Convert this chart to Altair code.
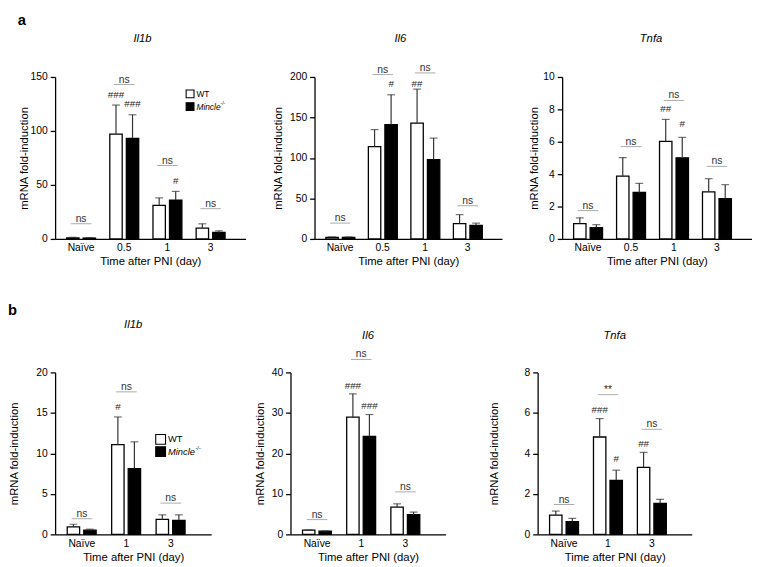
import altair as alt
import pandas as pd

FONT = "Liberation Sans"
GROUPS = ["WT", "KO"]

A_CATS = ["Naïve", "0.5", "1", "3"]
B_CATS = ["Naïve", "1", "3"]

# ---------------- panel a ----------------
A1_WT = [1.0, 97, 31, 10]
A1_WT_UP = [1.5, 124, 38, 14]
A1_KO = [0.8, 93, 36, 6]
A1_KO_UP = [1.2, 115, 44, 7.5]
A1_SIG_Y = [14, 143, 68, 28]
A1_SIG = ["ns", "ns", "ns", "ns"]
A1_H_CAT = ["0.5", "0.5", "1"]
A1_H_GRP = ["WT", "KO", "KO"]
A1_H_TXT = ["###", "###", "#"]
A1_H_Y = [133, 125, 54]

A2_WT = [2, 114, 143, 19]
A2_WT_UP = [2.5, 135, 185, 30]
A2_KO = [2, 141, 98, 16.6]
A2_KO_UP = [2.5, 178, 124.5, 19.5]
A2_SIG_Y = [19.5, 203, 205, 41]
A2_SIG = ["ns", "ns", "ns", "ns"]
A2_H_CAT = ["0.5", "1"]
A2_H_GRP = ["KO", "WT"]
A2_H_TXT = ["#", "##"]
A2_H_Y = [191, 191]

A3_WT = [0.95, 3.88, 6.03, 2.9]
A3_WT_UP = [1.3, 5.02, 7.38, 3.72]
A3_KO = [0.7, 2.87, 5.01, 2.48]
A3_KO_UP = [0.88, 3.43, 6.27, 3.35]
A3_SIG_Y = [1.75, 5.7, 8.55, 4.48]
A3_SIG = ["ns", "ns", "ns", "ns"]
A3_H_CAT = ["1", "1"]
A3_H_GRP = ["WT", "KO"]
A3_H_TXT = ["##", "#"]
A3_H_Y = [8.0, 7.07]

# ---------------- panel b ----------------
B1_WT = [0.93, 11.07, 1.85]
B1_WT_UP = [1.25, 14.5, 2.41]
B1_KO = [0.52, 8.13, 1.73]
B1_KO_UP = [0.64, 11.43, 2.41]
B1_SIG_Y = [1.93, 17.6, 3.86]
B1_SIG = ["ns", "ns", "ns"]
B1_H_CAT = ["1"]
B1_H_GRP = ["WT"]
B1_H_TXT = ["#"]
B1_H_Y = [15.7]

B2_WT = [1.05, 28.95, 6.73]
B2_WT_UP = [1.1, 34.7, 7.54]
B2_KO = [0.8, 24.2, 4.87]
B2_KO_UP = [0.85, 29.6, 5.5]
B2_SIG_Y = [3.65, 43.2, 10.5]
B2_SIG = ["ns", "ns", "ns"]
B2_H_CAT = ["1", "1"]
B2_H_GRP = ["WT", "KO"]
B2_H_TXT = ["###", "###"]
B2_H_Y = [36.7, 31.6]

B3_WT = [0.95, 4.81, 3.31]
B3_WT_UP = [1.15, 5.72, 4.05]
B3_KO = [0.63, 2.67, 1.53]
B3_KO_UP = [0.79, 3.17, 1.73]
B3_SIG_Y = [1.47, 6.9, 5.19]
B3_SIG = ["ns", "**", "ns"]
B3_H_CAT = ["1", "1", "3"]
B3_H_GRP = ["WT", "KO", "WT"]
B3_H_TXT = ["###", "#", "##"]
B3_H_Y = [6.15, 3.72, 4.47]

LEGEND_LABELS = ["WT", "Mincle", "-/-"]


def text_at(txt, x, y, size, weight="normal", style="normal", baseline="middle",
            align="left"):
    return alt.Chart(pd.DataFrame({"t": [txt]})).mark_text(
        font=FONT, fontSize=size, fontWeight=weight, fontStyle=style, align=align,
        baseline=baseline, color="black").encode(
        text="t:N", x=alt.value(x), y=alt.value(y))


def square_at(fill, x, y, side):
    return alt.Chart(pd.DataFrame({"t": [fill]})).mark_square(
        size=side * side, fill=fill, stroke="black", strokeWidth=1.1, opacity=1).encode(
        x=alt.value(x), y=alt.value(y))


def legend(x, y1, y2, side, fs, sup_dx):
    return [
        square_at("white", x, y1, side),
        square_at("black", x, y2, side),
        text_at(LEGEND_LABELS[0], x + side / 2 + 2.5, y1, fs),
        text_at(LEGEND_LABELS[1], x + side / 2 + 2.5, y2, fs, style="italic"),
        text_at(LEGEND_LABELS[2], x + side / 2 + 2.5 + sup_dx, y2 - 3.5, fs * 0.6),
    ]


def make_panel(cats, wt, wt_up, ko, ko_up, sig_y, sig_txt, h_cat, h_grp, h_txt, h_y,
               ymax, ystep, gene, width, height, t_y, t_dx, y_tpad, xpad, extra):
    rows = []
    for i, c in enumerate(cats):
        rows.append({"cat": c, "grp": "WT", "mean": wt[i], "up": wt_up[i]})
        rows.append({"cat": c, "grp": "KO", "mean": ko[i], "up": ko_up[i]})
    df = pd.DataFrame(rows)
    sig_df = pd.DataFrame({"cat": cats, "y": sig_y, "t": sig_txt})
    hash_df = pd.DataFrame({"cat": h_cat, "grp": h_grp, "t": h_txt, "y": h_y})

    xaxis = alt.Axis(title="Time after PNI (day)", labelAngle=0, ticks=False, tickSize=0,
                     labelPadding=4, titlePadding=3, domainColor="black", domainWidth=1.3,
                     labelColor="black", titleColor="black", labelFontSize=10.5,
                     titleFontSize=11.5, titleFontWeight="normal", labelFont=FONT,
                     titleFont=FONT, grid=False)
    yaxis = alt.Axis(title="mRNA fold-induction", values=list(range(0, ymax + 1, ystep)),
                     tickSize=5, tickWidth=1.3, tickColor="black", domainColor="black",
                     domainWidth=1.3, labelPadding=3, titlePadding=y_tpad,
                     labelColor="black", titleColor="black", labelFontSize=10.5,
                     titleFontSize=11.5, titleFontWeight="normal", labelFont=FONT,
                     titleFont=FONT, grid=False)
    xs = alt.Scale(domain=cats, paddingInner=xpad[0], paddingOuter=xpad[1], align=xpad[2])
    ys = alt.Scale(domain=[0, ymax], nice=False, zero=True)
    X = alt.X("cat:N", sort=cats, scale=xs, axis=xaxis)
    XO = alt.XOffset("grp:N", sort=GROUPS,
                     scale=alt.Scale(domain=GROUPS, paddingInner=0.25, paddingOuter=0))

    bars = alt.Chart(df).mark_bar(stroke="black", strokeWidth=1.3).encode(
        x=X, xOffset=XO,
        y=alt.Y("mean:Q", scale=ys, axis=yaxis, stack=None),
        fill=alt.Fill("grp:N", scale=alt.Scale(domain=GROUPS, range=["white", "black"]),
                      legend=None),
    )
    err = alt.Chart(df).mark_rule(color="#333", strokeWidth=1.2).encode(
        x=X, xOffset=XO,
        y=alt.Y("mean:Q", scale=ys, axis=yaxis, stack=None), y2="up:Q",
    )
    cap = alt.Chart(df).mark_tick(color="#333", thickness=1.2, size=8,
                                  orient="horizontal").encode(
        x=X, xOffset=XO, y=alt.Y("up:Q", scale=ys, axis=yaxis, stack=None),
    )
    sig_line = alt.Chart(sig_df).mark_tick(color="#888", thickness=1, size=21,
                                           orient="horizontal").encode(
        x=X, y=alt.Y("y:Q", scale=ys, axis=yaxis),
    )
    sig_text = alt.Chart(sig_df).mark_text(font=FONT, fontSize=10.5, color="#333",
                                           baseline="alphabetic", dy=-2).encode(
        x=X, y=alt.Y("y:Q", scale=ys, axis=yaxis), text="t:N",
    )
    hashes = alt.Chart(hash_df).mark_text(font=FONT, fontSize=10, color="#222",
                                          baseline="middle").encode(
        x=X, xOffset=XO, y=alt.Y("y:Q", scale=ys, axis=yaxis), text="t:N",
    )
    title = text_at(gene, width / 2 + t_dx, t_y, 11.5, style="italic",
                    baseline="alphabetic", align="center")
    layers = [bars, err, cap, sig_line, sig_text, hashes, title] + extra
    return alt.layer(*layers).properties(width=width, height=height)


A_PAD = (0.33, 0.37, 0.36)
B_PAD = (0.34, 0.425, 0.32)

a1 = make_panel(A_CATS, A1_WT, A1_WT_UP, A1_KO, A1_KO_UP, A1_SIG_Y, A1_SIG,
                A1_H_CAT, A1_H_GRP, A1_H_TXT, A1_H_Y, 150, 50, "Il1b",
                194, 165, -35.6, -8, 1, A_PAD,
                legend(137.5, 17.2, 30.2, 8, 8.5, 24.5)
                + [text_at("a", -38, -65, 15, weight="bold", baseline="top")])
a2 = make_panel(A_CATS, A2_WT, A2_WT_UP, A2_KO, A2_KO_UP, A2_SIG_Y, A2_SIG,
                A2_H_CAT, A2_H_GRP, A2_H_TXT, A2_H_Y, 200, 50, "Il6",
                191, 165, -35.6, -8, 6, A_PAD, [])
a3 = make_panel(A_CATS, A3_WT, A3_WT_UP, A3_KO, A3_KO_UP, A3_SIG_Y, A3_SIG,
                A3_H_CAT, A3_H_GRP, A3_H_TXT, A3_H_Y, 10, 2, "Tnfa",
                193, 165, -35.6, -6, 3, A_PAD, [])

b1 = make_panel(B_CATS, B1_WT, B1_WT_UP, B1_KO, B1_KO_UP, B1_SIG_Y, B1_SIG,
                B1_H_CAT, B1_H_GRP, B1_H_TXT, B1_H_Y, 20, 5, "Il1b",
                159, 165, -45.2, 0, 17, B_PAD,
                legend(107.5, 68.2, 80.7, 10, 9.5, 28)
                + [text_at("b", -48, -71, 15, weight="bold", baseline="top")])
b2 = make_panel(B_CATS, B2_WT, B2_WT_UP, B2_KO, B2_KO_UP, B2_SIG_Y, B2_SIG,
                B2_H_CAT, B2_H_GRP, B2_H_TXT, B2_H_Y, 40, 10, "Il6",
                158, 165, -34.4, 0, 6, B_PAD, [])
b3 = make_panel(B_CATS, B3_WT, B3_WT_UP, B3_KO, B3_KO_UP, B3_SIG_Y, B3_SIG,
                B3_H_CAT, B3_H_GRP, B3_H_TXT, B3_H_Y, 8, 2, "Tnfa",
                157, 165, -34.4, 0, 25, B_PAD, [])

row_a = alt.hconcat(a1, a2, a3, spacing=27.3)
row_b = alt.hconcat(b1, b2, b3, spacing=43.8)

chart = alt.vconcat(row_a, row_b, spacing=36).properties(
    padding=0, background="white"
).configure_view(stroke=None)

chart.save("out.html", embed_options={"renderer": "svg", "actions": False})
